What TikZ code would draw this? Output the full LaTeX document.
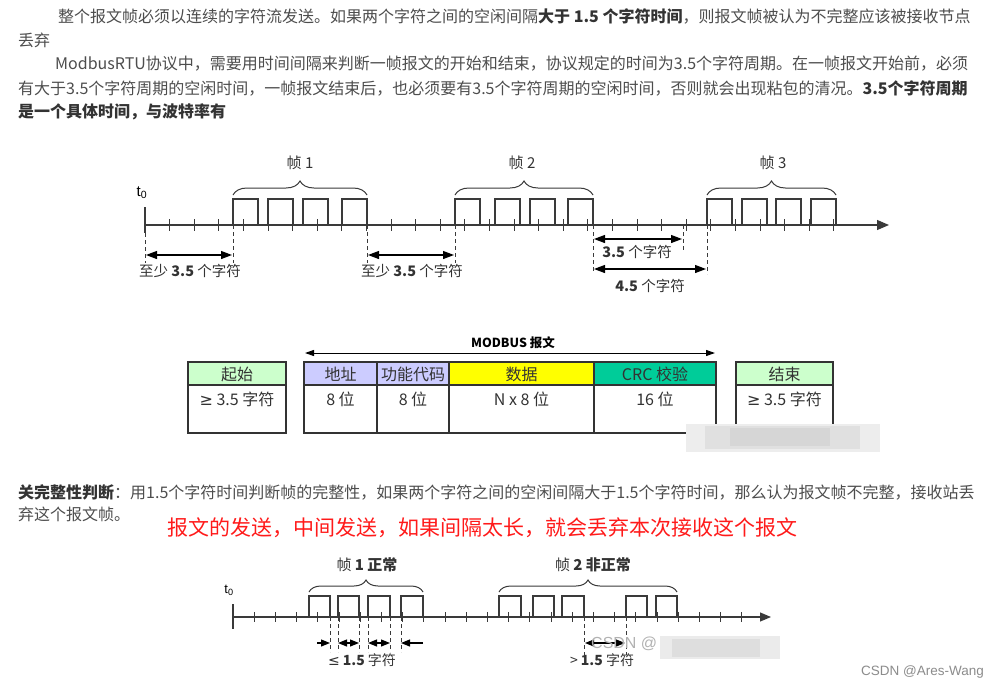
\documentclass[tikz,border=0pt]{standalone}
\usepackage{fontspec}
\setmainfont{Noto Sans CJK SC}
\newfontfamily\latf{Liberation Sans}
\newfontfamily\dejavu{DejaVu Sans}
\usetikzlibrary{arrows.meta,decorations.pathreplacing}
\definecolor{txt}{HTML}{4D4D4D}
\definecolor{ln}{HTML}{3A3A3A}
\definecolor{dk}{HTML}{333333}
\definecolor{hgreen}{HTML}{CCFFCC}
\definecolor{hlav}{HTML}{CCCCFF}
\definecolor{hyel}{HTML}{FFFF00}
\definecolor{hcrc}{HTML}{00CC99}
\definecolor{redt}{HTML}{FF1A1A}
\tikzset{
  para/.style={anchor=west,inner sep=0pt,text=txt,font=\fontsize{16}{16}\selectfont},
  axisline/.style={draw=ln,line width=1.2pt,-{Triangle[length=12pt,width=10pt]}},
  axisline2/.style={draw=ln,line width=1.1pt,-{Triangle[length=11pt,width=9pt]}},
  tickl/.style={draw=ln,line width=1pt},
  pulse/.style={draw=ln,line width=1.2pt},
  dsh/.style={draw=ln,line width=1pt,dash pattern=on 4pt off 3pt},
  dim/.style={draw=black,line width=1.2pt,{Triangle[length=11pt,width=8pt]}-{Triangle[length=11pt,width=8pt]}},
  dimr/.style={draw=black,line width=1.1pt,-{Triangle[length=9pt,width=7pt]}},
  dimb/.style={draw=black,line width=1.1pt,{Triangle[length=9pt,width=7pt]}-{Triangle[length=9pt,width=7pt]}},
  brc/.style={draw=ln,line width=1pt,decorate,decoration={brace,amplitude=14pt}},
  brc2/.style={draw=ln,line width=1pt,decorate,decoration={brace,amplitude=12pt}},
  lbl/.style={inner sep=0pt,text=dk,font=\fontsize{14.5}{14.5}\selectfont},
  lbl2/.style={inner sep=0pt,text=dk,font=\fontsize{14}{14}\selectfont},
  tbl/.style={draw=dk,line width=1.6pt},
  ttxt/.style={inner sep=0pt,text=dk,font=\fontsize{16}{16}\selectfont},
}
\newcommand{\mypulse}[4]{\draw[pulse] (#1,#4)--(#1,#3)--(#2,#3)--(#2,#4);}
\begin{document}
\begin{tikzpicture}[x=1pt,y=-1pt]
\useasboundingbox (0,0) rectangle (999,689);
\fill[white] (0,0) rectangle (999,689);

% ---------- paragraph text ----------
\node[para] (p1) at (58,16) {整个报文帧必须以连续的字符流发送。如果两个字符之间的空闲间隔\textbf{\color{dk}大于 1.5 个字符时间}，则报文帧被认为不完整应该被接收节点};
\node[para] (p2) at (18,40) {丢弃};
\node[para] (p3) at (55,64) {ModbusRTU协议中，需要用时间间隔来判断一帧报文的开始和结束，协议规定的时间为3.5个字符周期。在一帧报文开始前，必须};
\node[para] (p4) at (18,88) {有大于3.5个字符周期的空闲时间，一帧报文结束后，也必须要有3.5个字符周期的空闲时间，否则就会出现粘包的清况。\textbf{\color{dk}3.5个字符周期}};
\node[para] (p5) at (18,112) {\textbf{\color{dk}是一个具体时间，与波特率有}};

% ---------- diagram 1 ----------
\coordinate (a1s) at (145,225);
\coordinate (a1e) at (889,225);
\draw[axisline] (a1s) -- (a1e);
\draw[draw=ln,line width=1.2pt] (145,207) -- (145,233);
\foreach \k in {1,...,28} \draw[tickl] ({145+24.6*\k},219) -- ++(0,12);
\foreach \a/\b in {233/258,268/293,303/328,342/367,455/480,495/520,530/555,568/593,707/732,742/767,776/801,811/836}
  {\mypulse{\a}{\b}{199}{225}}
\draw[brc] (233,195) -- (367,195);
\draw[brc] (455,195) -- (593,195);
\draw[brc] (707,195) -- (836,195);
\node[lbl,font=\fontsize{15}{15}\selectfont] (f1) at (300,163) {帧 1};
\node[lbl,font=\fontsize{15}{15}\selectfont] (f2) at (522,163) {帧 2};
\node[lbl,font=\fontsize{15}{15}\selectfont] (f3) at (773,163) {帧 3};
\node[inner sep=0pt,text=black,font=\latf\fontsize{15}{15}\selectfont] (t0a) at (142,193) {t\textsubscript{0}};
% dashed guides
\draw[dsh] (145,233) -- (145,263);
\draw[dsh] (233,225) -- (233,263);
\draw[dsh] (367,225) -- (367,263);
\draw[dsh] (455,225) -- (455,263);
\draw[dsh] (593,225) -- (593,273);
\draw[dsh] (683,225) -- (683,251);
\draw[dsh] (707,225) -- (707,274);
% dimension arrows
\coordinate (d1a) at (146,255); \coordinate (d1b) at (232,255);
\coordinate (d2a) at (368,255); \coordinate (d2b) at (454,255);
\coordinate (d3a) at (594,239); \coordinate (d3b) at (682,239);
\coordinate (d4a) at (594,269); \coordinate (d4b) at (706,269);
\draw[dim] (d1a) -- (d1b);
\draw[dim] (d2a) -- (d2b);
\draw[dim] (d3a) -- (d3b);
\draw[dim] (d4a) -- (d4b);
\node[lbl] (l1) at (190,271) {至少 \textbf{3.5} 个字符};
\node[lbl] (l2) at (412,271) {至少 \textbf{3.5} 个字符};
\node[lbl] (l3) at (637,252) {\textbf{3.5} 个字符};
\node[lbl] (l4) at (650,286) {\textbf{4.5} 个字符};

% ---------- table ----------
\coordinate (ma) at (305,353); \coordinate (mb) at (715,353);
\draw[draw=black,line width=1pt,{Triangle[length=9pt,width=6pt]}-{Triangle[length=9pt,width=6pt]}] (ma) -- (mb);
\node[inner sep=0pt,text=black,font=\bfseries\fontsize{12.5}{12.5}\selectfont] (mt) at (513,343) {MODBUS 报文};
\foreach \a/\b/\c in {188/286/hgreen,304/377/hlav,377/449/hlav,449/594/hyel,594/716/hcrc,736/833/hgreen}{
  \draw[tbl,fill=\c] (\a,362) rectangle (\b,385);
  \draw[tbl] (\a,385) rectangle (\b,433);
}
\node[ttxt] (h1) at (237,374) {起始};
\node[ttxt] (h2) at (340.5,374) {地址};
\node[ttxt] (h3) at (413,374) {功能代码};
\node[ttxt] (h4) at (521.5,374) {数据};
\node[ttxt] (h5) at (655,374) {CRC 校验};
\node[ttxt] (h6) at (784.5,374) {结束};
\node[ttxt] (b1) at (237,399) {{\dejavu ≥} 3.5 字符};
\node[ttxt] (b2) at (340.5,399) {8 位};
\node[ttxt] (b3) at (413,399) {8 位};
\node[ttxt] (b4) at (521.5,399) {N x 8 位};
\node[ttxt] (b5) at (655,399) {16 位};
\node[ttxt] (b6) at (784.5,399) {{\dejavu ≥} 3.5 字符};
% blurred watermark patch
\fill[black!7] (686,424) rectangle (880,452);
\fill[black!12] (705,426) rectangle (860,449);
\fill[black!16] (730,428) rectangle (830,446);

% ---------- lower text ----------
\node[para] (q1) at (18,492) {\textbf{\color{dk}关完整性判断}：用1.5个字符时间判断帧的完整性，如果两个字符之间的空闲间隔大于1.5个字符时间，那么认为报文帧不完整，接收站丢};
\node[para] (q2) at (18,514) {弃这个报文帧。};
\node[anchor=west,inner sep=0pt,text=redt,font=\fontsize{21}{21}\selectfont] (red) at (167,528) {报文的发送，中间发送，如果间隔太长，就会丢弃本次接收这个报文};

% ---------- diagram 3 ----------
\coordinate (a3s) at (233,617);
\coordinate (a3e) at (771,617);
\draw[axisline2] (a3s) -- (a3e);
\draw[draw=ln,line width=1.1pt] (233,604) -- (233,629);
\foreach \k in {1,...,24} \draw[tickl] ({233+21.2*\k},612) -- ++(0,10);
\foreach \a/\b in {309/330,338/359,368/390,401/423,499/521,533/554,562/584,626/647,656/677}
  {\mypulse{\a}{\b}{596}{617}}
\draw[brc2] (309,592) -- (423,592);
\draw[brc2] (499,592) -- (677,592);
\node[lbl,font=\fontsize{15}{15}\selectfont] (g1) at (367,565) {帧 \textbf{1 正常}};
\node[lbl,font=\fontsize{15}{15}\selectfont] (g2) at (593,565) {帧 \textbf{2 非正常}};
\node[inner sep=0pt,text=black,font=\latf\fontsize{13}{13}\selectfont] (t0b) at (229,590) {t\textsubscript{0}};
\foreach \x in {330,338,359,368,390,401} \draw[dsh] (\x,617) -- (\x,652);
\draw[dsh] (584,617) -- (584,655);
\draw[dsh] (626,617) -- (626,655);
\coordinate (e0) at (317,643); \coordinate (e1) at (330,643);
\coordinate (e2) at (338,643); \coordinate (e3) at (359,643);
\coordinate (e4) at (368,643); \coordinate (e5) at (390,643);
\coordinate (e6) at (401,643); \coordinate (e7) at (423,643);
\draw[dimr] (e0) -- (e1);
\draw[dimb] (e2) -- (e3);
\draw[dimb] (e4) -- (e5);
\draw[dimr] (e7) -- (e6);
\coordinate (k1) at (585,643); \coordinate (k2) at (625,643);
\draw[dimb] (k1) -- (k2);
\node[lbl2] (m1) at (362,660) {{\dejavu ≤} \textbf{1.5} 字符};
\node[lbl2] (m2) at (602,660) {> \textbf{1.5} 字符};
% watermark overlay
\node[anchor=west,inner sep=0pt,text=black!30,font=\latf\fontsize{16}{16}\selectfont] (wm) at (591,644) {CSDN @};
\fill[black!8] (660,636) rectangle (780,659);
\fill[black!13] (672,639) rectangle (760,657);
\node[anchor=east,inner sep=0pt,text=black!45,font=\latf\fontsize{13.5}{13.5}\selectfont] (sig) at (984,672) {CSDN @Ares-Wang};
\end{tikzpicture}
\end{document}
